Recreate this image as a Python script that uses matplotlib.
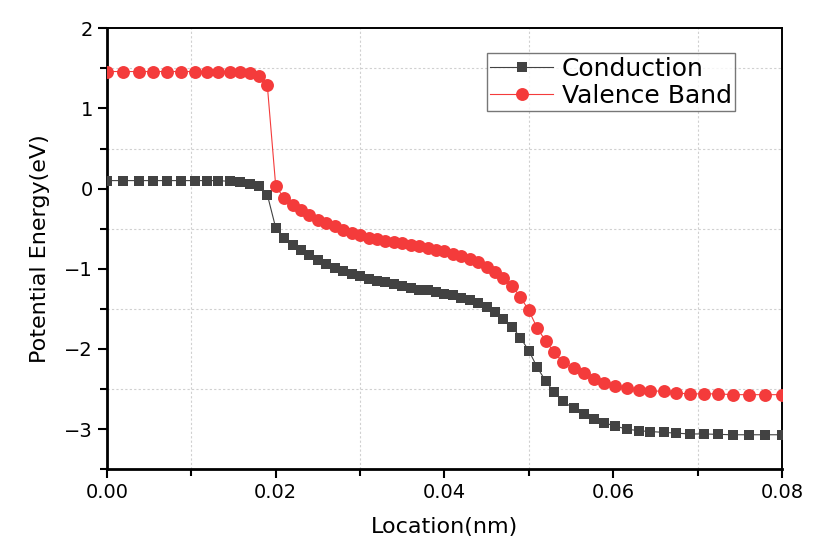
import matplotlib
matplotlib.use("Agg")
import matplotlib.pyplot as plt
from matplotlib.ticker import MultipleLocator, FixedLocator, FormatStrFormatter

### Step 1. data
location_nm = [
    0.0000, 0.0019, 0.0038, 0.0054, 0.0071, 0.0088, 0.0104, 0.0118, 0.0132, 0.0146,
    0.0158, 0.0170, 0.0180, 0.0190,
    0.0200, 0.0210, 0.0220, 0.0230, 0.0240, 0.0250, 0.0260, 0.0270, 0.0280, 0.0290,
    0.0300, 0.0310, 0.0320, 0.0330, 0.0340, 0.0350, 0.0360, 0.0370, 0.0380, 0.0390,
    0.0400, 0.0410, 0.0420, 0.0430, 0.0440, 0.0450, 0.0460, 0.0470, 0.0480, 0.0490,
    0.0500, 0.0510, 0.0520, 0.0530, 0.0540,
    0.0553, 0.0565, 0.0577, 0.0589, 0.0602, 0.0616, 0.0631, 0.0644, 0.0660, 0.0675,
    0.0691, 0.0708, 0.0724, 0.0742, 0.0761, 0.0780, 0.0800,
]

conduction_ev = [
    0.10, 0.10, 0.10, 0.10, 0.10, 0.10, 0.10, 0.10, 0.10, 0.09,
    0.08, 0.06, 0.03, -0.075,
    -0.49, -0.61, -0.705, -0.77, -0.83, -0.89, -0.94, -0.99, -1.03, -1.07,
    -1.09, -1.13, -1.15, -1.17, -1.19, -1.22, -1.24, -1.26, -1.27, -1.29,
    -1.31, -1.33, -1.36, -1.39, -1.43, -1.48, -1.54, -1.62, -1.72, -1.86,
    -2.02, -2.23, -2.40, -2.54, -2.65,
    -2.74, -2.81, -2.87, -2.92, -2.96, -3.00, -3.02, -3.03, -3.04, -3.05,
    -3.06, -3.06, -3.065, -3.07, -3.07, -3.07, -3.07,
]

valence_ev = [
    1.46, 1.46, 1.46, 1.46, 1.46, 1.46, 1.46, 1.46, 1.46, 1.46,
    1.45, 1.44, 1.40, 1.29,
    0.03, -0.12, -0.20, -0.27, -0.33, -0.39, -0.43, -0.47, -0.51, -0.55,
    -0.58, -0.61, -0.63, -0.65, -0.67, -0.68, -0.705, -0.72, -0.74, -0.76,
    -0.78, -0.81, -0.84, -0.875, -0.92, -0.98, -1.04, -1.12, -1.215, -1.35,
    -1.52, -1.74, -1.90, -2.04, -2.16,
    -2.24, -2.30, -2.38, -2.42, -2.46, -2.49, -2.51, -2.52, -2.53, -2.55,
    -2.56, -2.56, -2.56, -2.57, -2.57, -2.57, -2.57,
]

series_labels = ["Conduction", "Valence Band"]

x_minor_ticks = [0.01, 0.03, 0.05, 0.07]
y_minor_ticks = [1.5, 0.5, -0.5, -1.5, -2.5, -3.5]

COLOR_CB = "#424242"
COLOR_VB = "#F43B3B"

### Step 2. figure
fig = plt.figure(figsize=(8.17, 5.54), dpi=100)
ax = fig.add_axes([0.131, 0.153, 0.826, 0.796])

ax.plot(location_nm, conduction_ev,
        color=COLOR_CB, lw=0.8,
        marker="s", markersize=7.2, markeredgewidth=0,
        label=series_labels[0], zorder=3)
ax.plot(location_nm, valence_ev,
        color=COLOR_VB, lw=0.8,
        marker="o", markersize=9.3, markeredgewidth=0,
        label=series_labels[1], zorder=3)

### Step 3. axes range / ticks
ax.set_xlim(0, 0.08)
ax.set_ylim(-3.5, 2)
ax.xaxis.set_major_locator(MultipleLocator(0.02))
ax.xaxis.set_minor_locator(FixedLocator(x_minor_ticks))
ax.yaxis.set_major_locator(MultipleLocator(1))
ax.yaxis.set_minor_locator(FixedLocator(y_minor_ticks))
ax.xaxis.set_major_formatter(FormatStrFormatter("%.2f"))

ax.tick_params(which="major", direction="out", length=6.5, width=1.5,
               labelsize=14, top=False, right=False)
ax.tick_params(which="minor", direction="out", length=5, width=1.5,
               top=False, right=False)

# grid only on the minor ticks
ax.grid(False, which="major")
ax.grid(True, which="minor", color="#d0d0d0", linestyle=(0, (2, 2)), lw=0.8)
ax.set_axisbelow(True)

# spines
ax.spines["left"].set_linewidth(2)
ax.spines["bottom"].set_linewidth(2)
ax.spines["top"].set_linewidth(1.4)
ax.spines["right"].set_linewidth(1.4)

### Step 4. labels
ax.set_xlabel("Location(nm)", fontsize=16, labelpad=11)
ax.set_ylabel("Potential Energy(eV)", fontsize=16, labelpad=10)

### Step 5. legend
leg = ax.legend(loc="upper right", bbox_to_anchor=(0.931, 0.944),
                fontsize=18, frameon=True, fancybox=False,
                handlelength=2.5, handletextpad=0.35,
                borderpad=0.15, labelspacing=0.12, borderaxespad=0)
leg.get_frame().set_edgecolor("#555555")
leg.get_frame().set_linewidth(1.0)
for legline in leg.get_lines():
    legline.set_linewidth(0.8)

plt.savefig("out.png", dpi=100)
